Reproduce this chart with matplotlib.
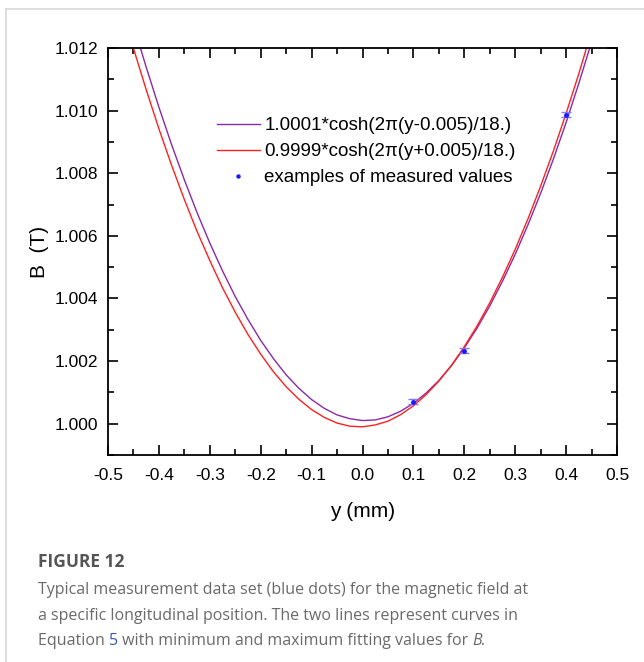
import matplotlib
matplotlib.use("Agg")
import matplotlib.pyplot as plt
from matplotlib.ticker import MultipleLocator
from matplotlib.lines import Line2D

# field curves, values (y in mm, B in T)
y_pos = [-0.45, -0.425, -0.4, -0.375, -0.35, -0.325, -0.3, -0.275, -0.25, -0.225,
         -0.2, -0.175, -0.15, -0.125, -0.1, -0.075, -0.05, -0.025, 0.0, 0.025,
         0.05, 0.075, 0.1, 0.125, 0.15, 0.175, 0.2, 0.225, 0.25, 0.275,
         0.3, 0.325, 0.35, 0.375, 0.4, 0.425, 0.45]
b_upper = [1.01274, 1.01139, 1.01011, 1.00891, 1.00779, 1.00674, 1.00577, 1.00488, 1.00406, 1.00333,
           1.00266, 1.00208, 1.00156, 1.00113, 1.00077, 1.00049, 1.00028, 1.00016, 1.00010, 1.00012,
           1.00022, 1.00040, 1.00065, 1.00098, 1.00138, 1.00186, 1.00242, 1.00305, 1.00376, 1.00455,
           1.00541, 1.00635, 1.00736, 1.00845, 1.00962, 1.01087, 1.01219]
b_lower = [1.01199, 1.01067, 1.00942, 1.00825, 1.00716, 1.00614, 1.00521, 1.00434, 1.00356, 1.00285,
           1.00222, 1.00166, 1.00118, 1.00078, 1.00045, 1.00020, 1.00002, 0.99992, 0.99990, 0.99996,
           1.00008, 1.00029, 1.00057, 1.00093, 1.00136, 1.00187, 1.00246, 1.00312, 1.00386, 1.00468,
           1.00557, 1.00654, 1.00759, 1.00871, 1.00991, 1.01118, 1.01254]

# measured points
meas_y = [0.1, 0.2, 0.4]
meas_b = [1.00070, 1.00233, 1.00987]
meas_err = [0.00008, 0.00008, 0.00008]

label_upper = "1.0001*cosh(2\u03c0(y-0.005)/18.)"
label_lower = "0.9999*cosh(2\u03c0(y+0.005)/18.)"
label_meas = "examples of measured values"

plt.rcParams['font.family'] = ['Liberation Sans', 'DejaVu Sans']

fig = plt.figure(figsize=(6.44, 6.62), dpi=100)
ax = fig.add_axes([108/644, 1 - 455/662, (617-108)/644, (455-48)/662])

c_up, c_low, c_pt = '#8a2aa8', '#ff2020', '#1a1aff'
ax.plot(y_pos, b_upper, color=c_up, lw=1.0)
ax.plot(y_pos, b_lower, color=c_low, lw=1.0)
ax.errorbar(meas_y, meas_b, yerr=meas_err, fmt='o', ms=2.5, color=c_pt,
            ecolor='#7d7dff', elinewidth=1.0, capsize=3.5, capthick=1.0, zorder=3)

ax.set_xlim(-0.5, 0.5)
ax.set_ylim(0.999, 1.012)
ax.xaxis.set_minor_locator(MultipleLocator(0.05))
ax.yaxis.set_minor_locator(MultipleLocator(0.001))
ax.set_yticks([1.000, 1.002, 1.004, 1.006, 1.008, 1.010, 1.012])
ax.set_xticks([-0.5, -0.4, -0.3, -0.2, -0.1, 0.0, 0.1, 0.2, 0.3, 0.4, 0.5])
ax.set_xticklabels(["-0.5", "-0.4", "-0.3", "-0.2", "-0.1", "0.0", "0.1", "0.2", "0.3", "0.4", "0.5"])
ax.set_yticklabels(["1.000", "1.002", "1.004", "1.006", "1.008", "1.010", "1.012"])
ax.tick_params(which='both', direction='in', top=True, right=True, width=1.2,
               labelsize=12.5)
ax.tick_params(axis='x', pad=9)
ax.tick_params(axis='y', pad=7)
ax.tick_params(which='major', length=7)
ax.tick_params(which='minor', length=4)
for s in ax.spines.values():
    s.set_linewidth(1.3)

ax.set_xlabel("y (mm)", fontsize=15, labelpad=14)
ax.set_ylabel("B  (T)", fontsize=15, labelpad=4)

handles = [Line2D([], [], color=c_up, lw=1.0),
           Line2D([], [], color=c_low, lw=1.0),
           Line2D([], [], color=c_pt, ls='none', marker='o', ms=2.2)]
ax.legend(handles, [label_upper, label_lower, label_meas], loc='upper left',
          bbox_to_anchor=(0.195, 0.853), frameon=False, fontsize=13.5,
          handlelength=2.3, handletextpad=0.25, labelspacing=0.47, borderpad=0)

# card border and caption
fig.add_artist(plt.Line2D([6/644, 1], [1 - 9/662, 1 - 9/662], color='#d8d8d8', lw=1.2))
fig.add_artist(plt.Line2D([6/644, 6/644], [0, 1 - 9/662], color='#d8d8d8', lw=1.2))
cap = ['Open Sans', 'DejaVu Sans']
fig.text(38/644, 1 - 562/662, "FIGURE 12", fontsize=12.5, color='#555555',
         family=cap, weight='bold', va='center')
fig.text(38/644, 1 - 590/662,
         "Typical measurement data set (blue dots) for the magnetic field at",
         fontsize=11.5, color='#6a6a6a', family=cap, va='center')
fig.text(38/644, 1 - 616/662,
         "a specific longitudinal position. The two lines represent curves in",
         fontsize=11.5, color='#6a6a6a', family=cap, va='center')
t = fig.text(38/644, 1 - 641/662, "Equation ", fontsize=11.5, color='#6a6a6a',
             family=cap, va='center')
fig.canvas.draw()
x1 = t.get_window_extent().x1 / fig.bbox.width
t2 = fig.text(x1, 1 - 641/662, "5", fontsize=11.5, color='#3a5aa8', family=cap, va='center')
fig.canvas.draw()
x2 = t2.get_window_extent().x1 / fig.bbox.width
t3 = fig.text(x2, 1 - 641/662, " with minimum and maximum fitting values for ",
              fontsize=11.5, color='#6a6a6a', family=cap, va='center')
fig.canvas.draw()
x3 = t3.get_window_extent().x1 / fig.bbox.width
fig.text(x3, 1 - 641/662, "B.", fontsize=11.5, color='#6a6a6a', family=cap,
         style='italic', va='center')

fig.savefig("out.png", dpi=100)
